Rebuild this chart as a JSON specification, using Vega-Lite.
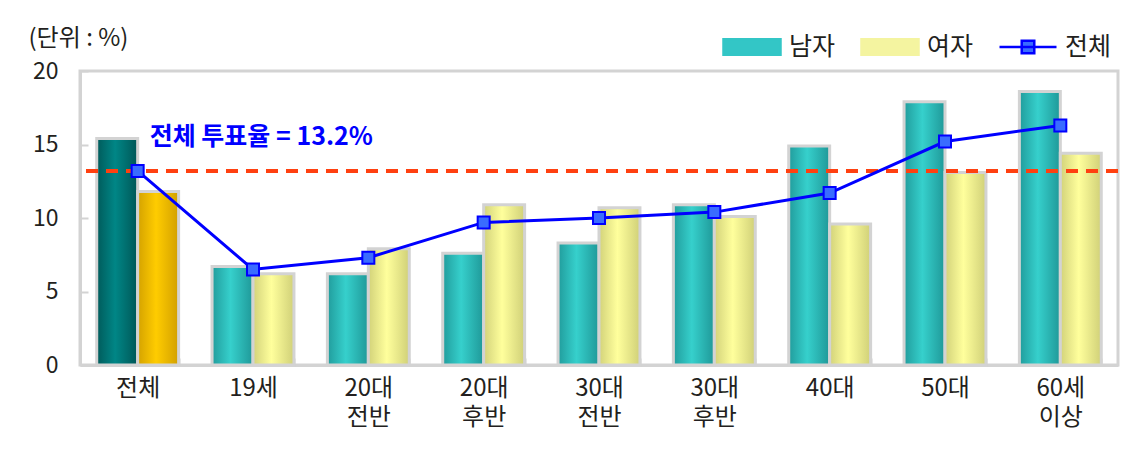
{
  "$schema": "https://vega.github.io/schema/vega-lite/v6.json",
  "width": 1038,
  "height": 294,
  "autosize": "none",
  "padding": {"left": 80, "top": 71, "right": 17, "bottom": 90},
  "background": "white",
  "config": {
    "font": "Noto Sans CJK KR",
    "view": {"stroke": "#d3d3d3", "strokeWidth": 3},
    "axis": {"grid": false}
  },
  "data": {
    "values": [
      {"cat": "전체", "series": "남자", "value": 15.4},
      {"cat": "전체", "series": "여자", "value": 11.8},
      {"cat": "전체", "series": "전체", "value": 13.2},
      {"cat": "19세", "series": "남자", "value": 6.7},
      {"cat": "19세", "series": "여자", "value": 6.2},
      {"cat": "19세", "series": "전체", "value": 6.5},
      {"cat": "20대 전반", "series": "남자", "value": 6.2},
      {"cat": "20대 전반", "series": "여자", "value": 7.9},
      {"cat": "20대 전반", "series": "전체", "value": 7.3},
      {"cat": "20대 후반", "series": "남자", "value": 7.6},
      {"cat": "20대 후반", "series": "여자", "value": 10.9},
      {"cat": "20대 후반", "series": "전체", "value": 9.7},
      {"cat": "30대 전반", "series": "남자", "value": 8.3},
      {"cat": "30대 전반", "series": "여자", "value": 10.7},
      {"cat": "30대 전반", "series": "전체", "value": 10.0},
      {"cat": "30대 후반", "series": "남자", "value": 10.9},
      {"cat": "30대 후반", "series": "여자", "value": 10.1},
      {"cat": "30대 후반", "series": "전체", "value": 10.4},
      {"cat": "40대", "series": "남자", "value": 14.9},
      {"cat": "40대", "series": "여자", "value": 9.6},
      {"cat": "40대", "series": "전체", "value": 11.7},
      {"cat": "50대", "series": "남자", "value": 17.9},
      {"cat": "50대", "series": "여자", "value": 13.1},
      {"cat": "50대", "series": "전체", "value": 15.2},
      {"cat": "60세 이상", "series": "남자", "value": 18.6},
      {"cat": "60세 이상", "series": "여자", "value": 14.4},
      {"cat": "60세 이상", "series": "전체", "value": 16.3}
    ]
  },
  "layer": [
    {
      "transform": [{"filter": "datum.series !== '전체'"}],
      "mark": {"type": "bar", "stroke": "#d3d3d3", "strokeWidth": 3},
      "encoding": {
        "x": {
          "field": "cat", "type": "nominal", "title": null,
          "sort": ["전체", "19세", "20대 전반", "20대 후반", "30대 전반", "30대 후반", "40대", "50대", "60세 이상"],
          "scale": {"paddingInner": 0.29, "paddingOuter": 0.145},
          "axis": {
            "labelExpr": "split(datum.label, ' ')",
            "labelFontSize": 24, "labelLineHeight": 29, "labelPadding": 18,
            "labelColor": "#231f20", "labelAngle": 0, "labelBaseline": "top",
            "tickBand": "extent", "tickSize": -7, "tickColor": "#d3d3d3", "tickWidth": 2,
            "domainColor": "#d3d3d3", "domainWidth": 3
          }
        },
        "xOffset": {"field": "series", "type": "nominal", "scale": {"domain": ["남자", "여자"], "paddingInner": 0, "paddingOuter": 0}},
        "y": {
          "field": "value", "type": "quantitative", "title": "(단위 : %)",
          "scale": {"domain": [0, 20], "nice": false},
          "axis": {
            "values": [0, 5, 10, 15, 20],
            "titleAngle": 0, "titleAlign": "left", "titleBaseline": "alphabetic",
            "titleX": -52, "titleY": -26, "titleFontSize": 24, "titleFontWeight": "normal", "titleColor": "#231f20",
            "labelFontSize": 23, "labelColor": "#231f20", "labelPadding": 30,
            "tickSize": -8, "tickColor": "#d3d3d3", "tickWidth": 2,
            "domainColor": "#d3d3d3", "domainWidth": 3
          }
        },
        "fill": {
          "condition": [
            {"test": "datum.cat === '전체' && datum.series === '남자'", "value": {"gradient": "linear", "x1": 0, "y1": 0, "x2": 1, "y2": 0, "stops": [{"offset": 0, "color": "#005a5a"}, {"offset": 0.45, "color": "#008686"}, {"offset": 1, "color": "#005656"}]}},
            {"test": "datum.cat === '전체'", "value": {"gradient": "linear", "x1": 0, "y1": 0, "x2": 1, "y2": 0, "stops": [{"offset": 0, "color": "#d4a200"}, {"offset": 0.45, "color": "#ffcc00"}, {"offset": 1, "color": "#d2a000"}]}},
            {"test": "datum.series === '남자'", "value": {"gradient": "linear", "x1": 0, "y1": 0, "x2": 1, "y2": 0, "stops": [{"offset": 0, "color": "#219c9c"}, {"offset": 0.45, "color": "#36d0cc"}, {"offset": 1, "color": "#1f9898"}]}}
          ],
          "value": {"gradient": "linear", "x1": 0, "y1": 0, "x2": 1, "y2": 0, "stops": [{"offset": 0, "color": "#d2d27a"}, {"offset": 0.45, "color": "#ffff9c"}, {"offset": 1, "color": "#d0d078"}]}
        }
      }
    },
    {
      "data": {"values": [{"overall": 13.2}]},
      "mark": {"type": "rule", "color": "#ff4010", "strokeWidth": 4, "strokeDash": [12, 8]},
      "encoding": {
        "y": {"field": "overall", "type": "quantitative", "title": "(단위 : %)"}
      }
    },
    {
      "transform": [{"filter": "datum.series === '전체'"}],
      "mark": {"type": "line", "strokeWidth": 3},
      "encoding": {
        "x": {"field": "cat", "type": "nominal", "title": null, "sort": ["전체", "19세", "20대 전반", "20대 후반", "30대 전반", "30대 후반", "40대", "50대", "60세 이상"]},
        "y": {"field": "value", "type": "quantitative", "title": "(단위 : %)"},
        "color": {
          "field": "series", "type": "nominal", "title": null,
          "scale": {"domain": ["남자", "여자", "전체"], "range": ["#33c6c6", "#f4f4a0", "#0000ff"]},
          "legend": {
            "orient": "none", "legendX": 642, "legendY": -54, "direction": "horizontal",
            "title": null, "labelFontSize": 25, "labelColor": "#231f20", "labelOffset": 7,
            "columnPadding": 20, "symbolSize": 3249, "symbolOpacity": 1,
            "encode": {
              "symbols": {
                "update": {
                  "shape": {"signal": "datum.value === '전체' ? 'M-1,0H1M-0.22,-0.22H0.22V0.22H-0.22Z' : 'M-1,-0.27H1V0.27H-1Z'"},
                  "fill": {"signal": "datum.value === '남자' ? '#33c6c6' : datum.value === '여자' ? '#f4f4a0' : '#3a6cff'"},
                  "stroke": {"signal": "datum.value === '전체' ? '#0000ff' : '#cfcfcf'"},
                  "strokeWidth": {"value": 2.5},
                  "size": {"value": 3249},
                  "opacity": {"value": 1}
                }
              }
            }
          }
        }
      }
    },
    {
      "transform": [{"filter": "datum.series === '전체'"}],
      "mark": {"type": "point", "shape": "square", "filled": true, "fill": "#3a6cff", "stroke": "#0000ff", "strokeWidth": 2, "size": 144, "opacity": 1},
      "encoding": {
        "x": {"field": "cat", "type": "nominal", "title": null, "sort": ["전체", "19세", "20대 전반", "20대 후반", "30대 전반", "30대 후반", "40대", "50대", "60세 이상"]},
        "y": {"field": "value", "type": "quantitative", "title": "(단위 : %)"}
      }
    },
    {
      "data": {"values": [{"note": "전체 투표율 = 13.2%"}]},
      "mark": {"type": "text", "align": "left", "baseline": "alphabetic", "dx": 12, "fontSize": 25, "fontWeight": "bold", "color": "#0000ff"},
      "encoding": {
        "x": {"datum": "전체", "type": "nominal"},
        "y": {"datum": 15, "type": "quantitative"},
        "text": {"field": "note"}
      }
    }
  ]
}
